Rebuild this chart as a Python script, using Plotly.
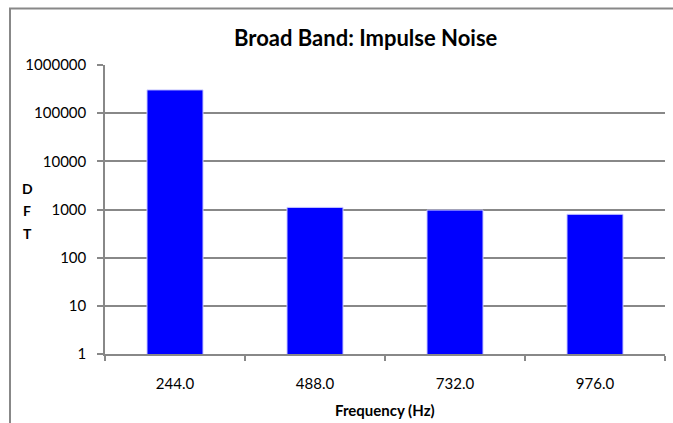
import plotly.graph_objects as go

categories = ["244.0", "488.0", "732.0", "976.0"]
dft_values = [304000, 1106, 972, 795]
y_tick_vals = [1, 10, 100, 1000, 10000, 100000, 1000000]
y_tick_text = ["1", "10", "100", "1000", "10000", "100000", "1000000"]
y_title_letters = ["D", "F", "T"]

W, H = 673, 423
L, R, T, B = 105, 8, 64.5, 69
pw = W - L - R
ph = H - T - B

def px_x(x):
    return (x - L) / pw

def px_y(y):
    return (H - B - y) / ph

FONT = "Lato"
grey = "#888888"

fig = go.Figure()
fig.add_trace(go.Bar(
    x=categories, y=dft_values,
    marker=dict(color="#0000FF", line=dict(color="#c8c8ff", width=1)),
    width=0.4,
))

fig.update_layout(
    width=W, height=H,
    margin=dict(l=L, r=R, t=T, b=B, autoexpand=False),
    paper_bgcolor="white", plot_bgcolor="white",
    showlegend=False,
    font=dict(family=FONT, size=15, color="#000000"),
    xaxis=dict(
        type="category", tickson="boundaries", ticks="outside", ticklen=5,
        tickcolor=grey, tickwidth=1.5,
        showline=True, linecolor=grey, linewidth=1.5,
        showgrid=False, tickfont=dict(size=15, family=FONT),
        ticklabelstandoff=15, automargin=False,
    ),
    yaxis=dict(
        type="log", range=[0, 6], tickvals=y_tick_vals, ticktext=y_tick_text,
        ticks="outside", ticklen=6, tickcolor=grey, tickwidth=1.5,
        showline=True, linecolor=grey, linewidth=1.5,
        showgrid=True, gridcolor=grey, gridwidth=1.5,
        tickfont=dict(size=15, family=FONT), zeroline=False,
        ticklabelstandoff=8, automargin=False,
    ),
)

fig.add_annotation(
    text="<b>Broad Band: Impulse Noise</b>", xref="paper", yref="paper",
    x=px_x(366), y=px_y(37), showarrow=False, xanchor="center", yanchor="middle",
    font=dict(size=22, family=FONT, color="#000000"),
)
fig.add_annotation(
    text="<b>Frequency (Hz)</b>", xref="paper", yref="paper",
    x=px_x(385), y=px_y(410), showarrow=False, xanchor="center", yanchor="middle",
    font=dict(size=15, family=FONT, color="#000000"),
)
for i, letter in enumerate(y_title_letters):
    fig.add_annotation(
        text="<b>" + letter + "</b>", xref="paper", yref="paper",
        x=px_x(27), y=px_y(188 + 22.5 * i), showarrow=False,
        xanchor="center", yanchor="middle",
        font=dict(size=14, family=FONT, color="#000000"),
    )

# outer chart border (top and left visible)
fig.add_shape(type="line", xref="paper", yref="paper", layer="above",
              x0=px_x(9), x1=px_x(673), y0=px_y(8), y1=px_y(8),
              line=dict(color=grey, width=2))
fig.add_shape(type="line", xref="paper", yref="paper", layer="above",
              x0=px_x(10), x1=px_x(10), y0=px_y(8), y1=px_y(423),
              line=dict(color=grey, width=2))

fig.write_html("out.html", config={"displayModeBar": False},
               post_script="document.body.style.margin='0';")
